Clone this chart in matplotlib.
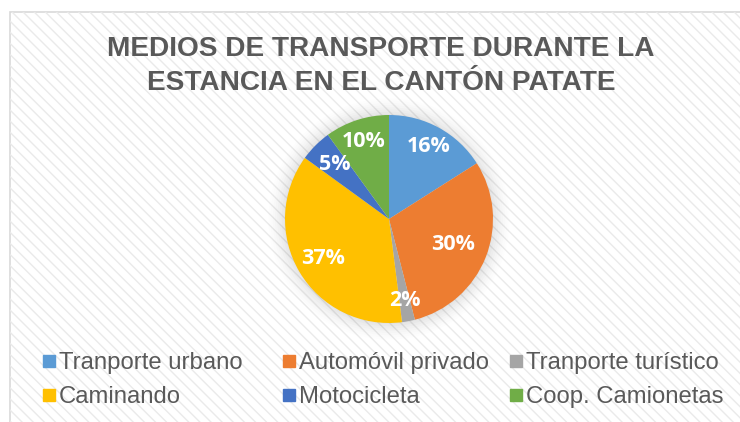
import matplotlib
matplotlib.use("Agg")
import matplotlib.pyplot as plt
from matplotlib.patches import Rectangle, Circle
from matplotlib.lines import Line2D
import numpy as np

title = "MEDIOS DE TRANSPORTE DURANTE LA\nESTANCIA EN EL CANTÓN PATATE"
categories = ["Tranporte urbano", "Automóvil privado", "Tranporte turístico",
              "Caminando", "Motocicleta", "Coop. Camionetas"]
values = [16, 30, 2, 37, 5, 10]
colors = ["#5B9BD5", "#ED7D31", "#A5A5A5", "#FFC000", "#4472C4", "#70AD47"]
label_dist = [0.80, 0.66, 0.80, 0.74, 0.74, 0.78]

plt.rcParams["hatch.linewidth"] = 1.0
fig = plt.figure(figsize=(7.4, 4.22), dpi=100)
W, H = 740, 422

# chart frame with diagonal hatch background
frame = Rectangle((10 / W, -0.01), 1.0, 1 - 12 / H + 0.01,
                  transform=fig.transFigure, facecolor="white",
                  edgecolor="#D9D9D9", linewidth=1.2, zorder=-3)
fig.patches.append(frame)
hatch = Rectangle((10 / W, -0.01), 1.0, 1 - 12 / H + 0.01,
                  transform=fig.transFigure, facecolor="none",
                  edgecolor="#EAEAEA", hatch="\\\\\\", linewidth=0,
                  zorder=-2)
fig.patches.append(hatch)

fig.text(381 / W, 1 - 66 / H, title, ha="center", va="center",
         fontsize=20.2, fontweight="bold", color="#595959",
         family="Liberation Sans", linespacing=1.35)

cx, cy, r = 389, 219, 104
ax = fig.add_axes([(cx - r * 1.25) / W, 1 - (cy + r * 1.25) / H,
                   2.5 * r / W, 2.5 * r / H])

# soft glow around pie
for k, a in zip(np.linspace(1.16, 1.01, 8), np.linspace(0.01, 0.045, 8)):
    ax.add_patch(Circle((0, 0), k, facecolor="#808080", alpha=a,
                        edgecolor="none", zorder=0))

wedges, texts, autotexts = ax.pie(
    values, colors=colors, startangle=90, counterclock=False,
    autopct="%d%%", pctdistance=0.75, radius=1.0,
    wedgeprops=dict(edgecolor="none"),
    textprops=dict(color="white", fontsize=15.5, fontweight="bold",
                   family="Open Sans"))
for w, t, d in zip(wedges, autotexts, label_dist):
    ang = np.deg2rad((w.theta1 + w.theta2) / 2)
    t.set_position((d * np.cos(ang), d * np.sin(ang)))
ax.set_aspect("equal")
ax.set_xlim(-1.25, 1.25)
ax.set_ylim(-1.25, 1.25)
ax.axis("off")

handles = [Line2D([0], [0], marker="s", linestyle="none", markersize=9,
                  markerfacecolor=c, markeredgecolor=c) for c in colors]
col_x = [42, 282, 509]
for j, x0 in enumerate(col_x):
    idx = [j, j + 3]
    leg = fig.legend([handles[i] for i in idx], [categories[i] for i in idx],
                     ncol=1, loc="upper left",
                     bbox_to_anchor=(x0 / W, 1 - 352 / H), frameon=False,
                     prop=dict(family="Liberation Sans", size=17.2),
                     labelcolor="#595959", borderpad=0, borderaxespad=0,
                     handlelength=0.6, handletextpad=0.12,
                     labelspacing=0.5)

fig.savefig("out.png", dpi=100)
